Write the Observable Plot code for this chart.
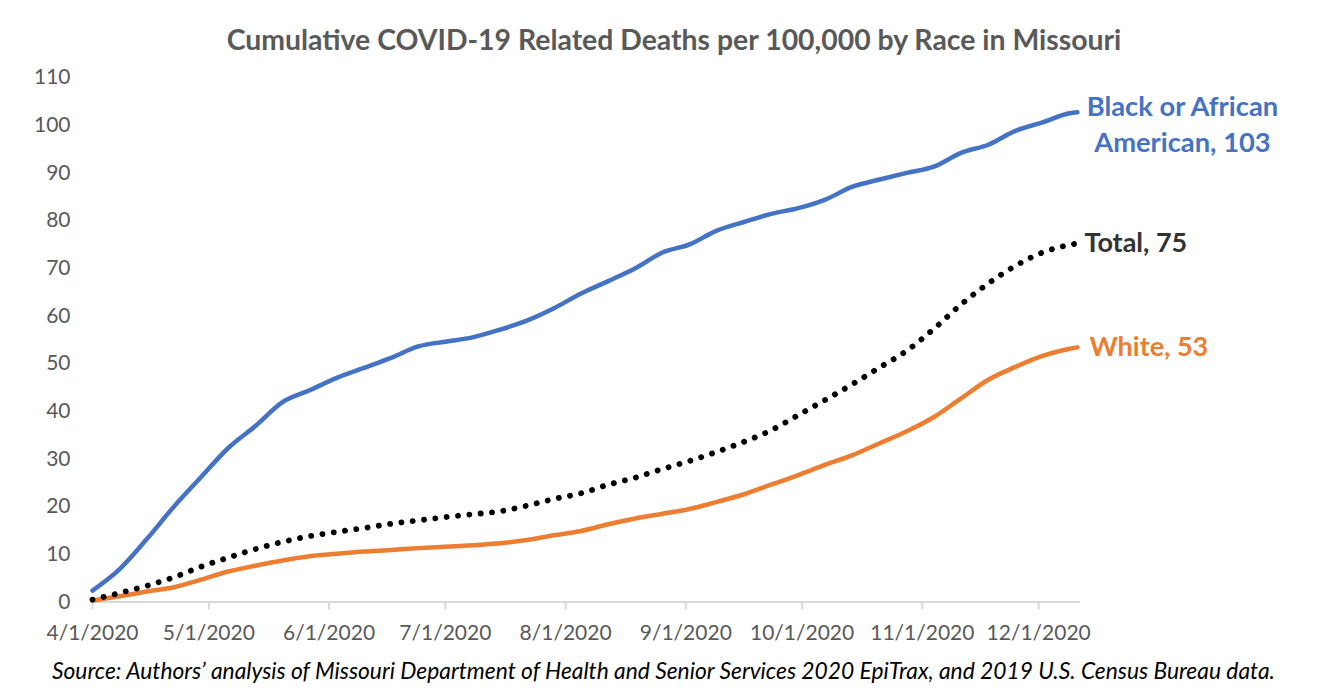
<!DOCTYPE html>
<html><head><meta charset="utf-8">
<script src="https://cdn.jsdelivr.net/npm/d3@7"></script>
<script src="https://cdn.jsdelivr.net/npm/@observablehq/plot@0.6"></script>
<style>
html,body{margin:0;padding:0;background:#fff}
body{position:relative;width:1319px;height:695px;overflow:hidden;font-family:Lato,"Open Sans",sans-serif}
#title{position:absolute;left:0;width:1348px;top:22px;text-align:center;font-weight:700;font-size:28.4px;line-height:34px;color:#595959;white-space:nowrap}
#chart{position:absolute;left:0;top:62px}
#caption{position:absolute;left:52px;top:655px;font-style:italic;font-size:22.8px;line-height:30px;color:#000;white-space:nowrap}
</style></head><body>
<div id="title">Cumulative COVID-19 Related Deaths per 100,000 by Race in Missouri</div>
<div id="chart"></div>
<div id="caption">Source: Authors’ analysis of Missouri Department of Health and Senior Services 2020 EpiTrax, and 2019 U.S. Census Bureau data.</div>
<script>
const dates = ["2020-04-01","2020-04-08","2020-04-15","2020-04-22","2020-04-29","2020-05-06","2020-05-13","2020-05-20","2020-05-27",
  "2020-06-03","2020-06-10","2020-06-17","2020-06-24","2020-07-01","2020-07-08","2020-07-15","2020-07-22","2020-07-29",
  "2020-08-05","2020-08-12","2020-08-19","2020-08-26","2020-09-02","2020-09-09","2020-09-16","2020-09-23","2020-09-30",
  "2020-10-07","2020-10-14","2020-10-21","2020-10-28","2020-11-04","2020-11-11","2020-11-18","2020-11-25","2020-12-02",
  "2020-12-09","2020-12-11"];
const black = [2.4,6.9,13.2,20.0,26.2,32.3,36.9,41.9,44.4,47.0,49.1,51.2,53.6,54.6,55.5,57.1,59.0,61.6,64.7,67.3,70.0,73.3,75.0,77.9,79.7,81.4,82.6,84.4,87.1,88.6,90.0,91.3,94.2,95.9,98.8,100.6,102.5,102.7];
const total = [0.5,1.9,3.4,5.2,7.4,9.3,11.1,12.6,13.8,14.7,15.5,16.4,17.1,17.8,18.4,19.0,20.2,21.6,22.8,24.6,26.1,27.9,29.6,31.5,33.6,36.0,39.2,42.4,45.7,49.2,52.7,57.3,62.4,66.8,70.5,73.3,74.9,75.2];
const white = [0.3,1.2,2.2,3.1,4.7,6.4,7.6,8.7,9.6,10.1,10.6,10.9,11.3,11.6,11.9,12.3,13.0,14.0,14.9,16.3,17.5,18.5,19.5,21.0,22.6,24.6,26.6,28.8,30.8,33.3,35.8,38.8,42.7,46.6,49.3,51.6,53.1,53.4];
const seriesNames = ["Black or African American","Total","White"];
const endLabels = ["Black or African\nAmerican, 103","Total, 75","White, 53"];
const xTicks = ["2020-04-01","2020-05-01","2020-06-01","2020-07-01","2020-08-01","2020-09-01","2020-10-01","2020-11-01","2020-12-01"];
const yTicks = [0,10,20,30,40,50,60,70,80,90,100,110];

const parse = d3.utcParse("%Y-%m-%d");
const seriesVals = [black,total,white];
const rows = [];
seriesNames.forEach((s,i)=>dates.forEach((d,j)=>rows.push({series:s,date:parse(d),value:seriesVals[i][j]})));
const lastOf = s => { const r = rows.filter(d=>d.series===s); return r[r.length-1]; };
const ends = seriesNames.map((s,i)=>({...lastOf(s), label:endLabels[i]}));
const of = s => rows.filter(d=>d.series===s);

const plot = Plot.plot({
  width:1319, height:580,
  marginLeft:92, marginRight:239, marginTop:15, marginBottom:40.5,
  x:{type:"utc", domain:[parse("2020-04-01"), new Date(Date.UTC(2020,11,11,19))]},
  y:{domain:[0,110]},
  style:{fontFamily:"Lato, sans-serif", fontSize:"21px", color:"#595959", background:"white", overflow:"visible"},
  marks:[
    Plot.ruleY([0],{stroke:"#d9d9d9", strokeWidth:2}),
    Plot.axisX(xTicks.map(parse), {tickSize:8, tickPadding:15, stroke:"#d9d9d9", strokeWidth:2, fill:"#595959", tickFormat:d3.utcFormat("%-m/%-d/%Y"), label:null}),
    Plot.axisY(yTicks, {tickSize:0, tickPadding:22, fill:"#595959", label:null}),
    Plot.line(of(seriesNames[2]), {x:"date", y:"value", stroke:"#ED7D31", strokeWidth:4.5, curve:"monotone-x", strokeLinecap:"round"}),
    Plot.line(of(seriesNames[0]), {x:"date", y:"value", stroke:"#4472C4", strokeWidth:4.5, curve:"monotone-x", strokeLinecap:"round"}),
    Plot.line(of(seriesNames[1]), {x:"date", y:"value", stroke:"#000", strokeWidth:5.8, curve:"monotone-x", strokeLinecap:"round", strokeDasharray:"0.1 11.3"}),
    Plot.text([ends[0]], {x:"date", y:"value", text:"label", dx:105, dy:10, textAnchor:"middle", lineAnchor:"middle", lineHeight:1.32, fill:"#4472C4", fontWeight:"bold", fontSize:27.3}),
    Plot.text([ends[1]], {x:"date", y:"value", text:"label", dx:7, textAnchor:"start", fill:"#333333", fontWeight:"bold", fontSize:27}),
    Plot.text([ends[2]], {x:"date", y:"value", text:"label", dx:12, textAnchor:"start", fill:"#ED7D31", fontWeight:"bold", fontSize:27})
  ]
});
document.getElementById("chart").appendChild(plot);
</script>
</body></html>
